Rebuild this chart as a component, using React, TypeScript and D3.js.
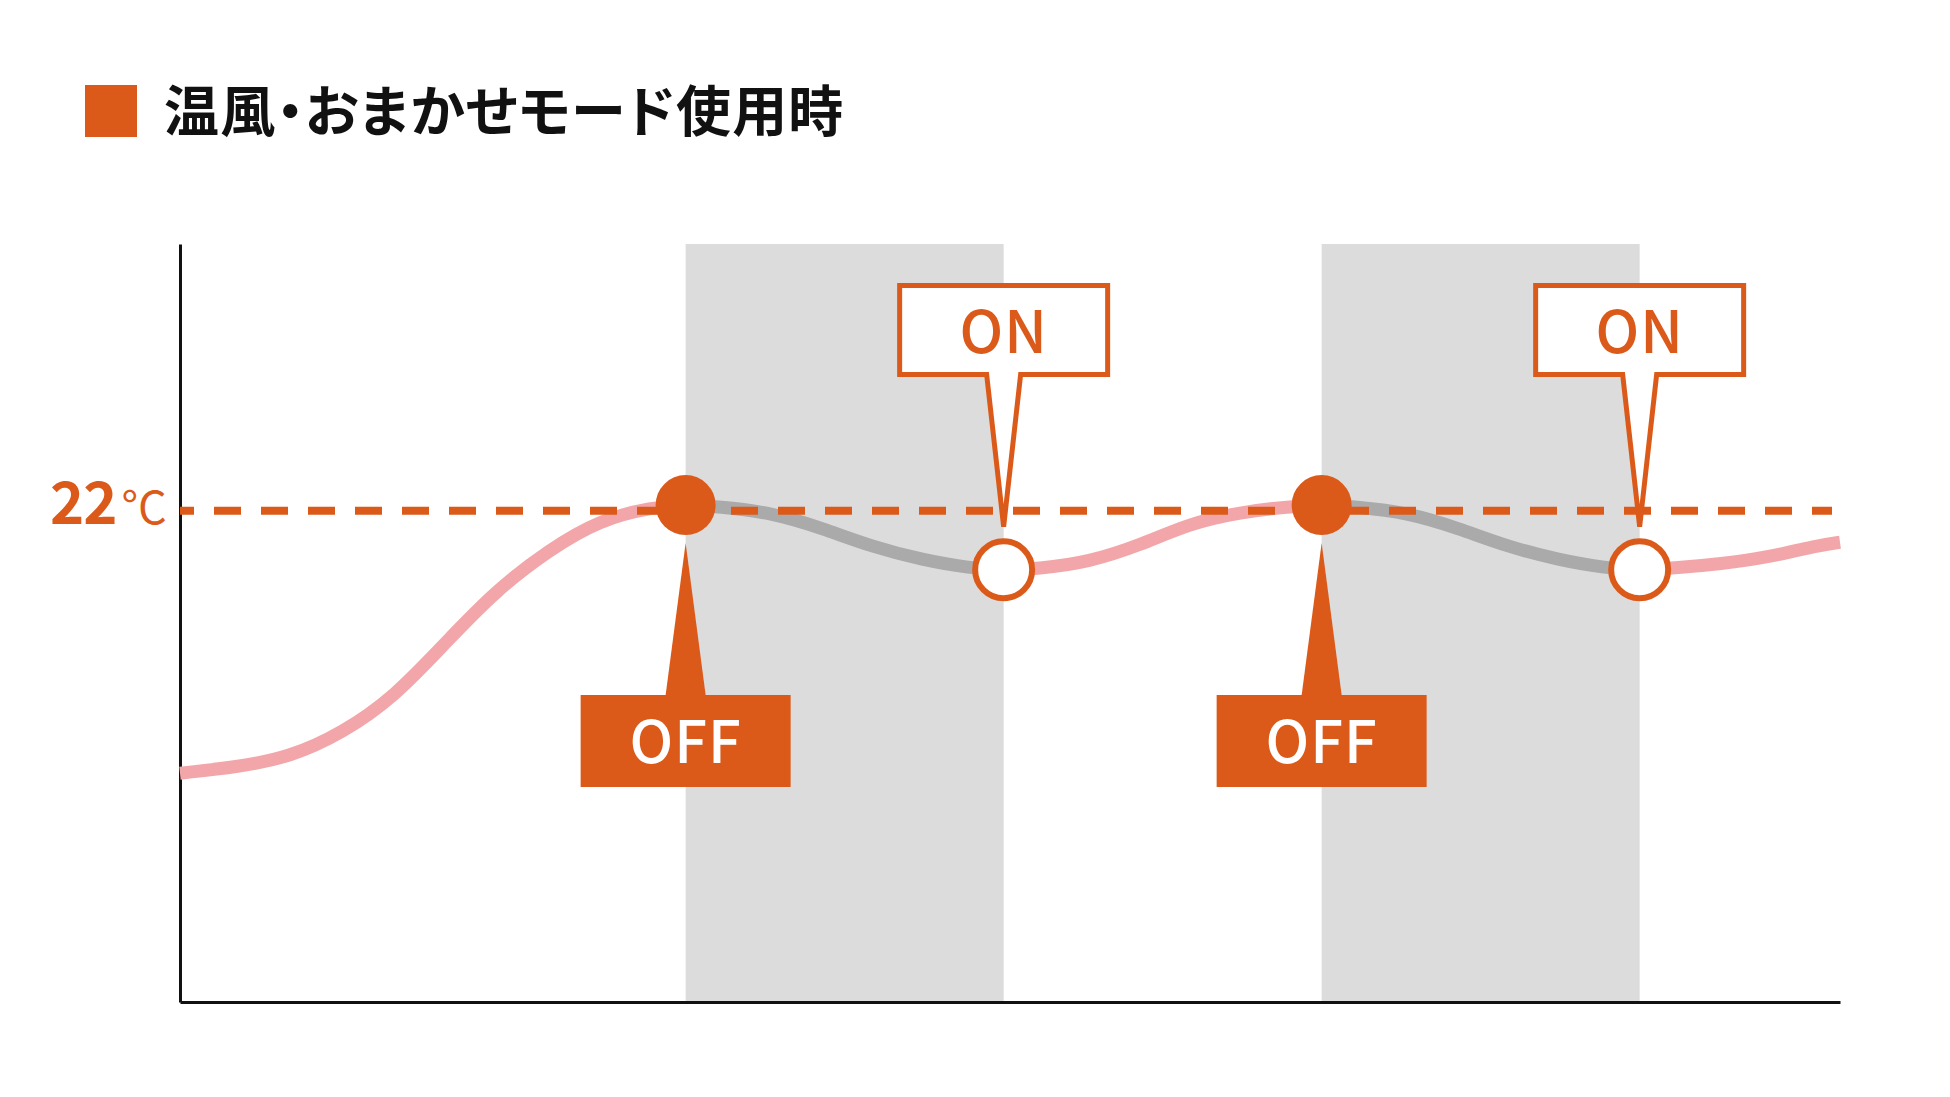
import React, { useEffect, useRef } from 'react';
import * as d3 from 'd3';

const W = 1950;
const H = 1097;
const ORANGE = '#dc5a19';
const PINK = '#f3a6a9';
const GRAY_LINE = '#aaaaaa';
const GRAY_BAND = '#dcdcdc';
const FONT = "'Noto Sans CJK JP', 'Noto Sans', sans-serif";

const title = '温風・おまかせモード使用時';
const setTemp = 22;
const setTempLabel = '22';
const unitLabel = '°C';

// time axis in minutes, temperature in °C
const xDomain = [0, 104.4];
const yDomain = [15, 25.8];

// heating stretches (pink) and coasting stretches (gray)
const warmUpTime = [0, 3.7, 6.9, 10.2, 13.5, 16.7, 19.9, 23.2, 26.4, 29.7, 31.8];
const warmUpTemp = [18.26, 18.35, 18.49, 18.83, 19.35, 20.12, 20.87, 21.44, 21.87, 22.05, 22.08];
const coast1Time = [31.8, 33.8, 37.3, 40.4, 43.6, 46.7, 49.7, 51.8];
const coast1Temp = [22.08, 22.06, 21.97, 21.75, 21.48, 21.3, 21.18, 21.16];
const reheat1Time = [51.8, 53.9, 57.2, 60.4, 63.5, 66.7, 69.8, 71.8];
const reheat1Temp = [21.16, 21.17, 21.27, 21.51, 21.82, 21.98, 22.06, 22.08];
const coast2Time = [71.8, 73.8, 77.3, 80.4, 83.6, 86.7, 89.7, 91.8];
const coast2Temp = [22.08, 22.06, 21.97, 21.75, 21.48, 21.3, 21.18, 21.16];
const reheat2Time = [91.8, 93.9, 96.9, 100.0, 103.1, 104.4];
const reheat2Temp = [21.16, 21.18, 21.24, 21.34, 21.51, 21.55];

// switching events
const offTimes = [31.8, 71.8];
const onTimes = [51.8, 91.8];
const offTemp = 22.08;
const onTemp = 21.16;
const offLabel = 'OFF';
const onLabel = 'ON';

const App = () => {
  const svgRef = useRef<SVGSVGElement>(null);

  useEffect(() => {
    if (!svgRef.current) return;
    const svg = d3.select(svgRef.current);
    svg.selectAll('*').remove();

    const x = d3.scaleLinear().domain(xDomain).range([180, 1840]);
    const y = d3.scaleLinear().domain(yDomain).range([1002, 244]);

    // legend / title
    svg.append('rect')
      .attr('x', 85).attr('y', 85)
      .attr('width', 52).attr('height', 52)
      .attr('fill', ORANGE);
    svg.append('text')
      .attr('x', 164).attr('y', 131)
      .attr('font-family', FONT)
      .attr('font-size', 55)
      .attr('font-weight', 700)
      .attr('letter-spacing', 1.2)
      .attr('fill', '#111')
      .style('font-feature-settings', '"palt"')
      .text(title);

    // OFF periods shaded
    svg.selectAll('.band')
      .data(offTimes.map((t, i) => [t, onTimes[i]]))
      .enter()
      .append('rect')
      .attr('class', 'band')
      .attr('x', d => x(d[0]))
      .attr('width', d => x(d[1]) - x(d[0]))
      .attr('y', y(yDomain[1]))
      .attr('height', y(yDomain[0]) - y(yDomain[1]))
      .attr('fill', GRAY_BAND);

    // axes without ticks
    const xAxis = svg.append('g')
      .attr('transform', `translate(0,${y(yDomain[0])})`)
      .call(d3.axisBottom(x).ticks(0).tickSizeOuter(0));
    const yAxis = svg.append('g')
      .attr('transform', `translate(${x(xDomain[0])},0)`)
      .call(d3.axisLeft(y).ticks(0).tickSizeOuter(0));
    [xAxis, yAxis].forEach(a => a.select('.domain').attr('stroke', '#111').attr('stroke-width', 3));

    // temperature curve
    const line = d3.line<[number, number]>()
      .x(d => x(d[0]))
      .y(d => y(d[1]))
      .curve(d3.curveBasis);
    const segments = [
      { t: warmUpTime, v: warmUpTemp, c: PINK },
      { t: coast1Time, v: coast1Temp, c: GRAY_LINE },
      { t: reheat1Time, v: reheat1Temp, c: PINK },
      { t: coast2Time, v: coast2Temp, c: GRAY_LINE },
      { t: reheat2Time, v: reheat2Temp, c: PINK },
    ];
    segments.forEach(s => {
      svg.append('path')
        .datum(s.t.map((t, i) => [t, s.v[i]] as [number, number]))
        .attr('d', line)
        .attr('fill', 'none')
        .attr('stroke', s.c)
        .attr('stroke-width', 13);
    });

    // set temperature reference
    svg.append('line')
      .attr('x1', x(xDomain[0])).attr('x2', 1832)
      .attr('y1', y(setTemp)).attr('y2', y(setTemp))
      .attr('stroke', ORANGE)
      .attr('stroke-width', 8)
      .attr('stroke-dasharray', '27 20')
      .attr('stroke-dashoffset', 13);

    const tempLabel = svg.append('text')
      .attr('x', 50).attr('y', y(setTemp) + 13)
      .attr('font-family', FONT)
      .attr('fill', ORANGE);
    tempLabel.append('tspan')
      .attr('font-size', 58)
      .attr('font-weight', 700)
      .attr('letter-spacing', -1)
      .text(setTempLabel);
    tempLabel.append('tspan')
      .attr('font-size', 45)
      .attr('dx', 5)
      .text(unitLabel);

    // OFF markers with filled callouts below
    offTimes.forEach(t => {
      const cx = x(t);
      const cy = y(offTemp);
      svg.append('path')
        .attr('d', `M${cx - 20},695 L${cx},${cy + 38} L${cx + 20},695 Z`)
        .attr('fill', ORANGE);
      svg.append('rect')
        .attr('x', cx - 105).attr('y', 695)
        .attr('width', 210).attr('height', 92)
        .attr('fill', ORANGE);
      svg.append('text')
        .attr('x', cx).attr('y', 763)
        .attr('text-anchor', 'middle')
        .attr('font-family', FONT)
        .attr('font-size', 58)
        .attr('font-weight', 500)
        .attr('letter-spacing', 1)
        .attr('fill', '#fff')
        .text(offLabel);
      svg.append('circle')
        .attr('cx', cx).attr('cy', cy)
        .attr('r', 30)
        .attr('fill', ORANGE);
    });

    // ON markers with outlined callouts above
    onTimes.forEach(t => {
      const cx = x(t);
      const cy = y(onTemp);
      const top = 285.5;
      const bottom = 374.5;
      svg.append('path')
        .attr('d', `M${cx - 104},${top} H${cx + 104} V${bottom} H${cx + 17} L${cx},${cy - 43} L${cx - 17},${bottom} H${cx - 104} Z`)
        .attr('fill', '#fff')
        .attr('stroke', ORANGE)
        .attr('stroke-width', 5);
      svg.append('text')
        .attr('x', cx).attr('y', 353)
        .attr('text-anchor', 'middle')
        .attr('font-family', FONT)
        .attr('font-size', 58)
        .attr('font-weight', 500)
        .attr('letter-spacing', 1)
        .attr('fill', ORANGE)
        .text(onLabel);
      svg.append('circle')
        .attr('cx', cx).attr('cy', cy)
        .attr('r', 28.5)
        .attr('fill', '#fff')
        .attr('stroke', ORANGE)
        .attr('stroke-width', 6);
    });
  }, []);

  return (
    <svg
      ref={svgRef}
      width={W}
      height={H}
      viewBox={`0 0 ${W} ${H}`}
      style={{ position: 'absolute', left: 0, top: 0, background: '#fff' }}
    />
  );
};

export default App;
